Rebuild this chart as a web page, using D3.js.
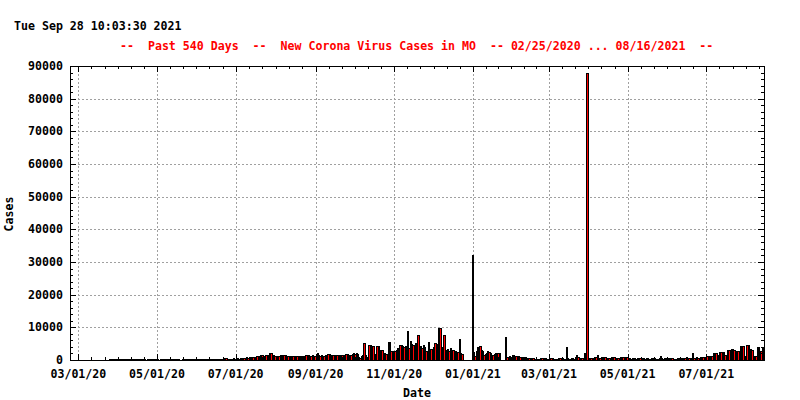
<!DOCTYPE html>
<html><head><meta charset="utf-8">
<script src="https://cdn.jsdelivr.net/npm/d3@7"></script>
<style>
html,body{margin:0;padding:0;background:#fff;}
svg{display:block;}
text{font-family:"DejaVu Sans Mono","Liberation Mono",monospace;font-weight:bold;font-size:11.6px;}
</style></head><body>
<svg id="chart" width="800" height="400"></svg>
<script>
// ---- data: new daily cases, one array per month, starting 2020-02-25 ----
const firstDay = "2020-02-25";
const feb2020 = [0,0,0,0,0];
const mar2020 = [0,0,0,0,0,0,1,0,1,2,3,5,7,10,15,20,25,40,50,70,90,100,120,150,180,190,230,200,250,270,300];
const apr2020 = [250,300,350,280,400,300,250,200,300,350,280,200,250,300,230,200,180,250,300,220,200,150,180,240,200,170,150,220,200,250];
const may2020 = [200,150,180,220,250,200,150,180,220,300,250,180,150,200,230,250,180,120,150,200,220,300,250,180,150,200,250,220,180,200,250];
const jun2020 = [200,180,150,200,250,300,220,180,200,250,300,280,200,220,250,300,350,300,250,280,350,600,600,250,350,450,400,350,500,450];
const jul2020 = [500,600,400,600,700,600,500,600,800,600,700,900,900,800,700,1000,1100,1100,1000,1400,1400,1000,1200,1500,1500,1300,2200,2100,1600,1600,1300];
const aug2020 = [1300,1200,1300,1600,1600,1500,1600,1600,1300,1200,1300,1300,1200,1100,1200,1300,1200,1100,1200,1300,1200,1200,1300,1400,1600,1600,1200,1300,1400,1200,1300];
const sep2020 = [1400,2100,1500,1300,1400,1300,1200,1400,1500,1800,1800,1500,1400,1500,1600,1400,1500,1600,1400,1500,1400,1300,1500,1900,1900,1600,1500,1400,1800,2000];
const oct2020 = [1800,2000,1900,800,700,1300,1500,5200,1500,900,900,4600,4500,4300,4300,1900,1800,4300,4200,3100,3100,3100,2100,2000,1900,1900,5600,5500,2900,2900,2800];
const nov2020 = [2800,3000,3600,2900,4600,4700,4400,3900,4200,4100,8900,3600,5900,4800,4600,3900,5100,4500,7800,4200,4300,3800,4600,4000,2800,2200,5600,3100,3300,3500];
const dec2020 = [4100,5100,4800,2800,9900,9700,4100,3600,7800,3000,2800,3300,2700,3600,3200,3100,2900,2800,2600,2400,6500,2100,1800,0,0,0,0,0,0,0,32000];
const jan2021 = [2300,1300,2700,4000,3800,4300,3100,2900,1600,1700,2100,2700,2600,2100,1300,1400,1900,2100,2000,2100,2000,0,0,0,0,7100,800,900,1100,1000,1600];
const feb2021 = [1600,1100,1100,1000,1100,900,1000,800,800,800,700,600,600,600,600,500,400,300,300,300,400,600,600,500,600,600,400,300];
const mar2021 = [600,600,600,400,400,400,300,500,500,400,500,300,400,4100,500,300,400,700,700,300,300,1600,900,300,500,500,300,2200,300,88000,600];
const apr2021 = [500,500,400,500,900,900,1600,500,500,1000,1000,900,1000,600,500,500,400,900,900,800,500,400,500,400,1000,1000,900,1000,900,1000];
const may2021 = [500,500,400,500,600,500,400,500,400,500,500,600,500,400,500,500,300,400,500,400,500,400,300,400,500,1300,500,400,500,400,500];
const jun2021 = [400,500,400,500,400,300,400,500,400,500,400,500,600,500,900,600,500,400,500,2200,700,600,900,700,600,800,700,900,800,900];
const jul2021 = [1100,1200,1300,1100,1200,2100,2000,2100,1600,1500,2400,2600,2500,2400,1600,1500,3100,3000,3100,3300,3300,3200,1100,2800,2800,2700,4300,4300,4200,1100,1200];
const aug2021 = [4600,4500,3300,3300,3200,1300,1200,1300,4100,4000,2800,2800,3600,3600,3500,3400];

const yTickValues = [0,10000,20000,30000,40000,50000,60000,70000,80000,90000];
const timestampText = "Tue Sep 28 10:03:30 2021";
const titleText = "--  Past 540 Days  --  New Corona Virus Cases in MO  -- 02/25/2020 ... 08/16/2021  --";
const xLabel = "Date";
const yLabel = "Cases";

// ---- build ----
const dayMs = 864e5;
const startMs = Date.parse(firstDay + "T00:00:00Z");
const values = [].concat(feb2020,mar2020,apr2020,may2020,jun2020,jul2020,aug2020,sep2020,oct2020,nov2020,dec2020,
  jan2021,feb2021,mar2021,apr2021,may2021,jun2021,jul2021,aug2021);
const records = values.map((v,i)=>({t0:new Date(startMs+i*dayMs), t1:new Date(startMs+(i+1)*dayMs), v}));

const W=800,H=400;
const P={left:70,right:764,top:66,bottom:360};
const svg=d3.select("#chart");
svg.append("rect").attr("width",W).attr("height",H).attr("fill","#fff");

const x=d3.scaleUtc().domain([new Date(Date.UTC(2020,1,23,12)),new Date(Date.UTC(2021,7,14,18))]).range([P.left,P.right]);
const y=d3.scaleLinear().domain([0,90000]).range([P.bottom,P.top]);

const xMajor = d3.utcMonth.every(2).range(new Date(Date.UTC(2020,2,1)), x.domain()[1]);
const xMinor = [];
for(let i=0;i<xMajor.length;i++){
  const a=+xMajor[i];
  const b = i+1<xMajor.length ? +xMajor[i+1] : a + (+xMajor[i]-(+xMajor[i-1]));
  for(let k=1;k<6;k++){ const t=a+(b-a)*k/6; if(t<+x.domain()[1]) xMinor.push(new Date(t)); }
}
const yMinor = d3.range(0,90001,2000).filter(v=>v%10000!==0);

const px = v=>Math.round(v)+0.5;

// grid
const grid=svg.append("g").attr("stroke","#a0a0a0").attr("stroke-width",1).attr("stroke-dasharray","2,2").attr("shape-rendering","crispEdges");
yTickValues.filter(v=>v>0&&v<90000).forEach(v=>{
  grid.append("line").attr("x1",P.left).attr("x2",P.right).attr("y1",px(y(v))).attr("y2",px(y(v)));
});
xMajor.forEach(d=>{
  grid.append("line").attr("x1",px(x(d))).attr("x2",px(x(d))).attr("y1",P.top).attr("y2",P.bottom);
});

// bars
svg.append("clipPath").attr("id","clip").append("rect").attr("x",P.left).attr("y",P.top-1).attr("width",P.right-P.left).attr("height",P.bottom-P.top+2);
const bars=svg.append("g").attr("clip-path","url(#clip)").attr("shape-rendering","crispEdges");
records.filter(r=>r.v>0).forEach(r=>{
  const x1=Math.round(x(r.t0)), x2=Math.round(x(r.t1));
  const yt=Math.round(y(r.v)), yb=P.bottom;
  if(x1>=P.right) return;
  const g=bars.append("g");
  g.append("rect").attr("x",x1).attr("y",yt).attr("width",x2-x1+1).attr("height",yb-yt+1).attr("fill","#000");
  if(x2-x1>=2 && yb-yt>=2){
    g.append("rect").attr("x",x1+1).attr("y",yt+1).attr("width",x2-x1-1).attr("height",yb-yt-1).attr("fill","#ff0000");
  }
});

// frame
const ax=svg.append("g").attr("stroke","#000").attr("stroke-width",1).attr("shape-rendering","crispEdges").attr("fill","none");
ax.append("rect").attr("x",P.left+0.5).attr("y",P.top+0.5).attr("width",P.right-P.left).attr("height",P.bottom-P.top);
const MAJ=6, MIN=3;
yTickValues.forEach(v=>{
  const yy=px(y(v));
  ax.append("line").attr("x1",P.left).attr("x2",P.left+MAJ).attr("y1",yy).attr("y2",yy);
  ax.append("line").attr("x1",P.right-MAJ).attr("x2",P.right).attr("y1",yy).attr("y2",yy);
});
yMinor.forEach(v=>{
  const yy=px(y(v));
  ax.append("line").attr("x1",P.left).attr("x2",P.left+MIN).attr("y1",yy).attr("y2",yy);
  ax.append("line").attr("x1",P.right-MIN).attr("x2",P.right).attr("y1",yy).attr("y2",yy);
});
xMajor.forEach(d=>{
  const xx=px(x(d));
  ax.append("line").attr("x1",xx).attr("x2",xx).attr("y1",P.bottom).attr("y2",P.bottom-MAJ);
  ax.append("line").attr("x1",xx).attr("x2",xx).attr("y1",P.top).attr("y2",P.top+MAJ);
});
xMinor.forEach(d=>{
  const xx=px(x(d));
  ax.append("line").attr("x1",xx).attr("x2",xx).attr("y1",P.bottom).attr("y2",P.bottom-MIN);
  ax.append("line").attr("x1",xx).attr("x2",xx).attr("y1",P.top).attr("y2",P.top+MIN);
});

// labels
const fmt=d3.utcFormat("%m/%d/%y");
svg.append("g").selectAll("text").data(xMajor).join("text")
  .attr("x",d=>x(d)).attr("y",378).attr("text-anchor","middle").attr("fill","#000").text(d=>fmt(d));
svg.append("g").selectAll("text").data(yTickValues).join("text")
  .attr("x",63).attr("y",v=>y(v)+4).attr("text-anchor","end").attr("fill","#000").text(v=>String(v));

svg.append("text").attr("x",(P.left+P.right)/2).attr("y",397).attr("text-anchor","middle").attr("fill","#000").text(xLabel);
svg.append("text").attr("transform","translate(13,214) rotate(-90)").attr("text-anchor","middle").attr("fill","#000").text(yLabel);
svg.append("text").attr("x",14).attr("y",30).attr("fill","#000").text(timestampText);
svg.append("text").attr("x",120).attr("y",50).attr("fill","#ff0000").style("white-space","pre").attr("xml:space","preserve").text(titleText);
</script>
</body></html>
